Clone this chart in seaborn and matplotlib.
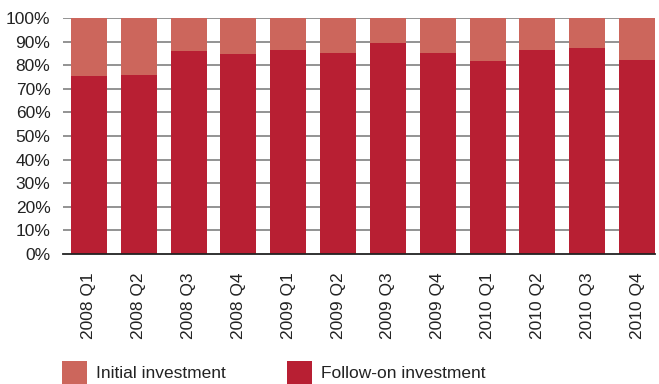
import matplotlib
matplotlib.use("Agg")
import matplotlib.pyplot as plt
from matplotlib.patches import Patch
import seaborn as sns
import pandas as pd

quarters = ["2008 Q1", "2008 Q2", "2008 Q3", "2008 Q4",
            "2009 Q1", "2009 Q2", "2009 Q3", "2009 Q4",
            "2010 Q1", "2010 Q2", "2010 Q3", "2010 Q4"]
follow_on = [75.4, 75.8, 86.0, 84.7, 86.4, 85.2, 89.4, 85.2, 81.8, 86.4, 87.3, 82.2]
initial = [100 - v for v in follow_on]

light = "#cc665c"
dark = "#b81f33"

sns.set_theme(style="white")
plt.rcParams['font.family'] = ['Liberation Sans', 'DejaVu Sans']

df = pd.DataFrame({"quarter": quarters,
                   "follow": follow_on,
                   "total": [a + b for a, b in zip(follow_on, initial)]})

fig = plt.figure(figsize=(6.59, 3.84), dpi=100)
ax = fig.add_axes([63/659, 1-254/384, (655-63)/659, (254-18)/384])

for y in range(10, 101, 10):
    ax.axhline(y, color="#8a8a8a", lw=1.3, zorder=0)

sns.barplot(data=df, x="quarter", y="total", color=light, width=0.72,
            saturation=1, linewidth=0, ax=ax, zorder=2)
sns.barplot(data=df, x="quarter", y="follow", color=dark, width=0.72,
            saturation=1, linewidth=0, ax=ax, zorder=3)

ax.set_ylim(0, 100)
ax.set_xlim(-0.52, 11.36)
ax.set_yticks(range(0, 101, 10))
ax.set_yticklabels([f"{v}%" for v in range(0, 101, 10)], fontsize=12.5, color="#222222")
ax.tick_params(axis="y", length=0, pad=9)
ax.tick_params(axis="x", length=0, pad=13, labelrotation=90, labelsize=12.5, labelcolor="#222222")
ax.set_xlabel("")
ax.set_ylabel("")
for s in ["left", "right", "top"]:
    ax.spines[s].set_visible(False)
ax.spines["bottom"].set_color("#222222")
ax.spines["bottom"].set_linewidth(1.3)
ax.spines["bottom"].set_zorder(5)

handles = [Patch(facecolor=light, edgecolor="none", label="Initial investment"),
           Patch(facecolor=dark, edgecolor="none", label="Follow-on investment")]
fig.legend(handles=handles, loc="upper left", bbox_to_anchor=(62/659, 1-361/384),
           ncol=2, frameon=False, fontsize=12.5, handlelength=1.44,
           handleheight=1.7, handletextpad=0.52, columnspacing=3.5,
           borderpad=0, borderaxespad=0, labelcolor="#222222")

fig.savefig("out.png", dpi=100)
